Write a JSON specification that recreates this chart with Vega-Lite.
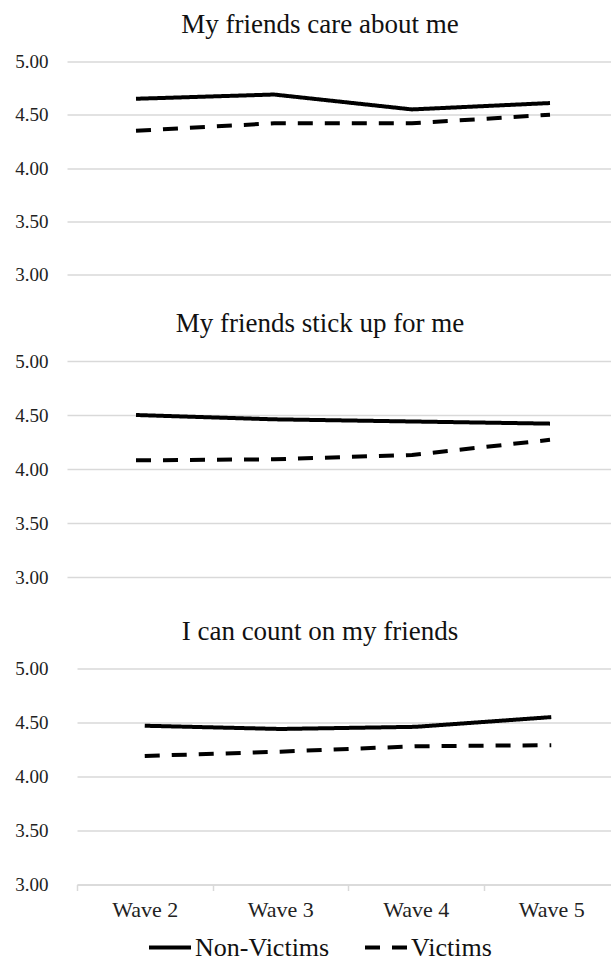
{
  "$schema": "https://vega.github.io/schema/vega-lite/v6.json",
  "padding": {"top": 10.5, "left": 0, "right": 0, "bottom": 0},
  "background": "white",
  "spacing": 25.5,
  "config": {
    "view": {"stroke": null},
    "font": "Liberation Serif",
    "title": {"font": "Liberation Serif", "fontSize": 27, "fontWeight": "normal", "color": "#111", "anchor": "middle", "frame": "group", "baseline": "alphabetic", "offset": 14},
    "axis": {"labelFont": "Liberation Serif", "labelColor": "#222", "titleFont": "Liberation Serif"},
    "legend": {"labelFont": "Liberation Serif"}
  },
  "datasets": {
    "d": [
      {"panel": "care", "wave": "Wave 2", "group": "Non-Victims", "value": 4.65},
      {"panel": "care", "wave": "Wave 3", "group": "Non-Victims", "value": 4.69},
      {"panel": "care", "wave": "Wave 4", "group": "Non-Victims", "value": 4.55},
      {"panel": "care", "wave": "Wave 5", "group": "Non-Victims", "value": 4.61},
      {"panel": "care", "wave": "Wave 2", "group": "Victims", "value": 4.35},
      {"panel": "care", "wave": "Wave 3", "group": "Victims", "value": 4.42},
      {"panel": "care", "wave": "Wave 4", "group": "Victims", "value": 4.42},
      {"panel": "care", "wave": "Wave 5", "group": "Victims", "value": 4.50},
      {"panel": "stick", "wave": "Wave 2", "group": "Non-Victims", "value": 4.50},
      {"panel": "stick", "wave": "Wave 3", "group": "Non-Victims", "value": 4.46},
      {"panel": "stick", "wave": "Wave 4", "group": "Non-Victims", "value": 4.44},
      {"panel": "stick", "wave": "Wave 5", "group": "Non-Victims", "value": 4.42},
      {"panel": "stick", "wave": "Wave 2", "group": "Victims", "value": 4.08},
      {"panel": "stick", "wave": "Wave 3", "group": "Victims", "value": 4.09},
      {"panel": "stick", "wave": "Wave 4", "group": "Victims", "value": 4.13},
      {"panel": "stick", "wave": "Wave 5", "group": "Victims", "value": 4.27},
      {"panel": "count", "wave": "Wave 2", "group": "Non-Victims", "value": 4.47},
      {"panel": "count", "wave": "Wave 3", "group": "Non-Victims", "value": 4.44},
      {"panel": "count", "wave": "Wave 4", "group": "Non-Victims", "value": 4.46},
      {"panel": "count", "wave": "Wave 5", "group": "Non-Victims", "value": 4.55},
      {"panel": "count", "wave": "Wave 2", "group": "Victims", "value": 4.19},
      {"panel": "count", "wave": "Wave 3", "group": "Victims", "value": 4.23},
      {"panel": "count", "wave": "Wave 4", "group": "Victims", "value": 4.28},
      {"panel": "count", "wave": "Wave 5", "group": "Victims", "value": 4.29}
    ]
  },
  "resolve": {"scale": {"x": "independent", "y": "independent", "strokeDash": "independent"}, "legend": {"strokeDash": "independent"}},
  "vconcat": [
    {
      "data": {"name": "d"},
      "transform": [{"filter": "datum.panel === 'care'"}],
      "title": {"text": "My friends care about me", "dx": -19},
      "width": 544,
      "height": 213,
      "mark": {"type": "line", "strokeWidth": 4, "color": "#000", "strokeCap": "butt"},
      "encoding": {
        "x": {"field": "wave", "type": "nominal", "bandPosition": 0.5, "sort": ["Wave 2", "Wave 3", "Wave 4", "Wave 5"], "scale": {"type": "band", "paddingInner": 0, "paddingOuter": 0, "align": 0, "range": [0, 552]}, "axis": null},
        "y": {"field": "value", "type": "quantitative", "scale": {"domain": [3, 5], "nice": false, "zero": false}, "axis": {"values": [3, 3.5, 4, 4.5, 5], "format": ".2f", "domain": false, "ticks": false, "labelPadding": 19, "minExtent": 66.7, "gridColor": "#d9d9d9", "gridWidth": 1.5, "labelFont": "Liberation Serif", "labelFontSize": 19, "title": null}},
        "strokeDash": {"field": "group", "type": "nominal", "scale": {"domain": ["Non-Victims", "Victims"], "range": [[1, 0], [15, 12]]}, "legend": null}
      }
    },
    {
      "data": {"name": "d"},
      "transform": [{"filter": "datum.panel === 'stick'"}],
      "title": {"text": "My friends stick up for me", "dx": -19},
      "width": 544,
      "height": 216,
      "mark": {"type": "line", "strokeWidth": 4, "color": "#000", "strokeCap": "butt"},
      "encoding": {
        "x": {"field": "wave", "type": "nominal", "bandPosition": 0.5, "sort": ["Wave 2", "Wave 3", "Wave 4", "Wave 5"], "scale": {"type": "band", "paddingInner": 0, "paddingOuter": 0, "align": 0, "range": [0, 552]}, "axis": {"labels": false, "ticks": false, "domain": false, "grid": false, "title": null, "minExtent": 15}},
        "y": {"field": "value", "type": "quantitative", "scale": {"domain": [3, 5], "nice": false, "zero": false}, "axis": {"values": [3, 3.5, 4, 4.5, 5], "format": ".2f", "domain": false, "ticks": false, "labelPadding": 19, "minExtent": 66.7, "gridColor": "#d9d9d9", "gridWidth": 1.5, "labelFont": "Liberation Serif", "labelFontSize": 19, "title": null}},
        "strokeDash": {"field": "group", "type": "nominal", "scale": {"domain": ["Non-Victims", "Victims"], "range": [[1, 0], [15, 12]]}, "legend": null}
      }
    },
    {
      "data": {"name": "d"},
      "transform": [{"filter": "datum.panel === 'count'"}],
      "title": {"text": "I can count on my friends", "dx": -19},
      "width": 544,
      "height": 216,
      "mark": {"type": "line", "strokeWidth": 4, "color": "#000", "strokeCap": "butt"},
      "encoding": {
        "x": {"field": "wave", "type": "nominal", "bandPosition": 0.5, "sort": ["Wave 2", "Wave 3", "Wave 4", "Wave 5"], "scale": {"type": "band", "paddingInner": 0, "paddingOuter": 0, "align": 0, "range": [10, 552]}, "axis": {"title": null, "labelAngle": 0, "labelFont": "Liberation Serif", "labelFontSize": 22, "labelPadding": 9, "domainColor": "#d9d9d9", "domainWidth": 1.5, "tickColor": "#d9d9d9", "tickWidth": 1.5, "tickSize": 6, "tickBand": "extent", "grid": false}},
        "y": {"field": "value", "type": "quantitative", "scale": {"domain": [3, 5], "nice": false, "zero": false}, "axis": {"values": [3, 3.5, 4, 4.5, 5], "format": ".2f", "domain": false, "ticks": false, "labelPadding": 19, "minExtent": 66.7, "gridColor": "#d9d9d9", "gridWidth": 1.5, "labelFont": "Liberation Serif", "labelFontSize": 19, "title": null}},
        "strokeDash": {"field": "group", "type": "nominal", "scale": {"domain": ["Non-Victims", "Victims"], "range": [[1, 0], [15, 12]]}, "legend": {"orient": "none", "legendX": 80, "legendY": 256, "direction": "horizontal", "title": null, "symbolType": "stroke", "symbolSize": 1764, "symbolStrokeWidth": 4, "symbolStrokeColor": "#000", "labelFont": "Liberation Serif", "labelFontSize": 26, "labelColor": "#111", "labelOffset": 2, "columnPadding": 27}}
      }
    }
  ]
}
